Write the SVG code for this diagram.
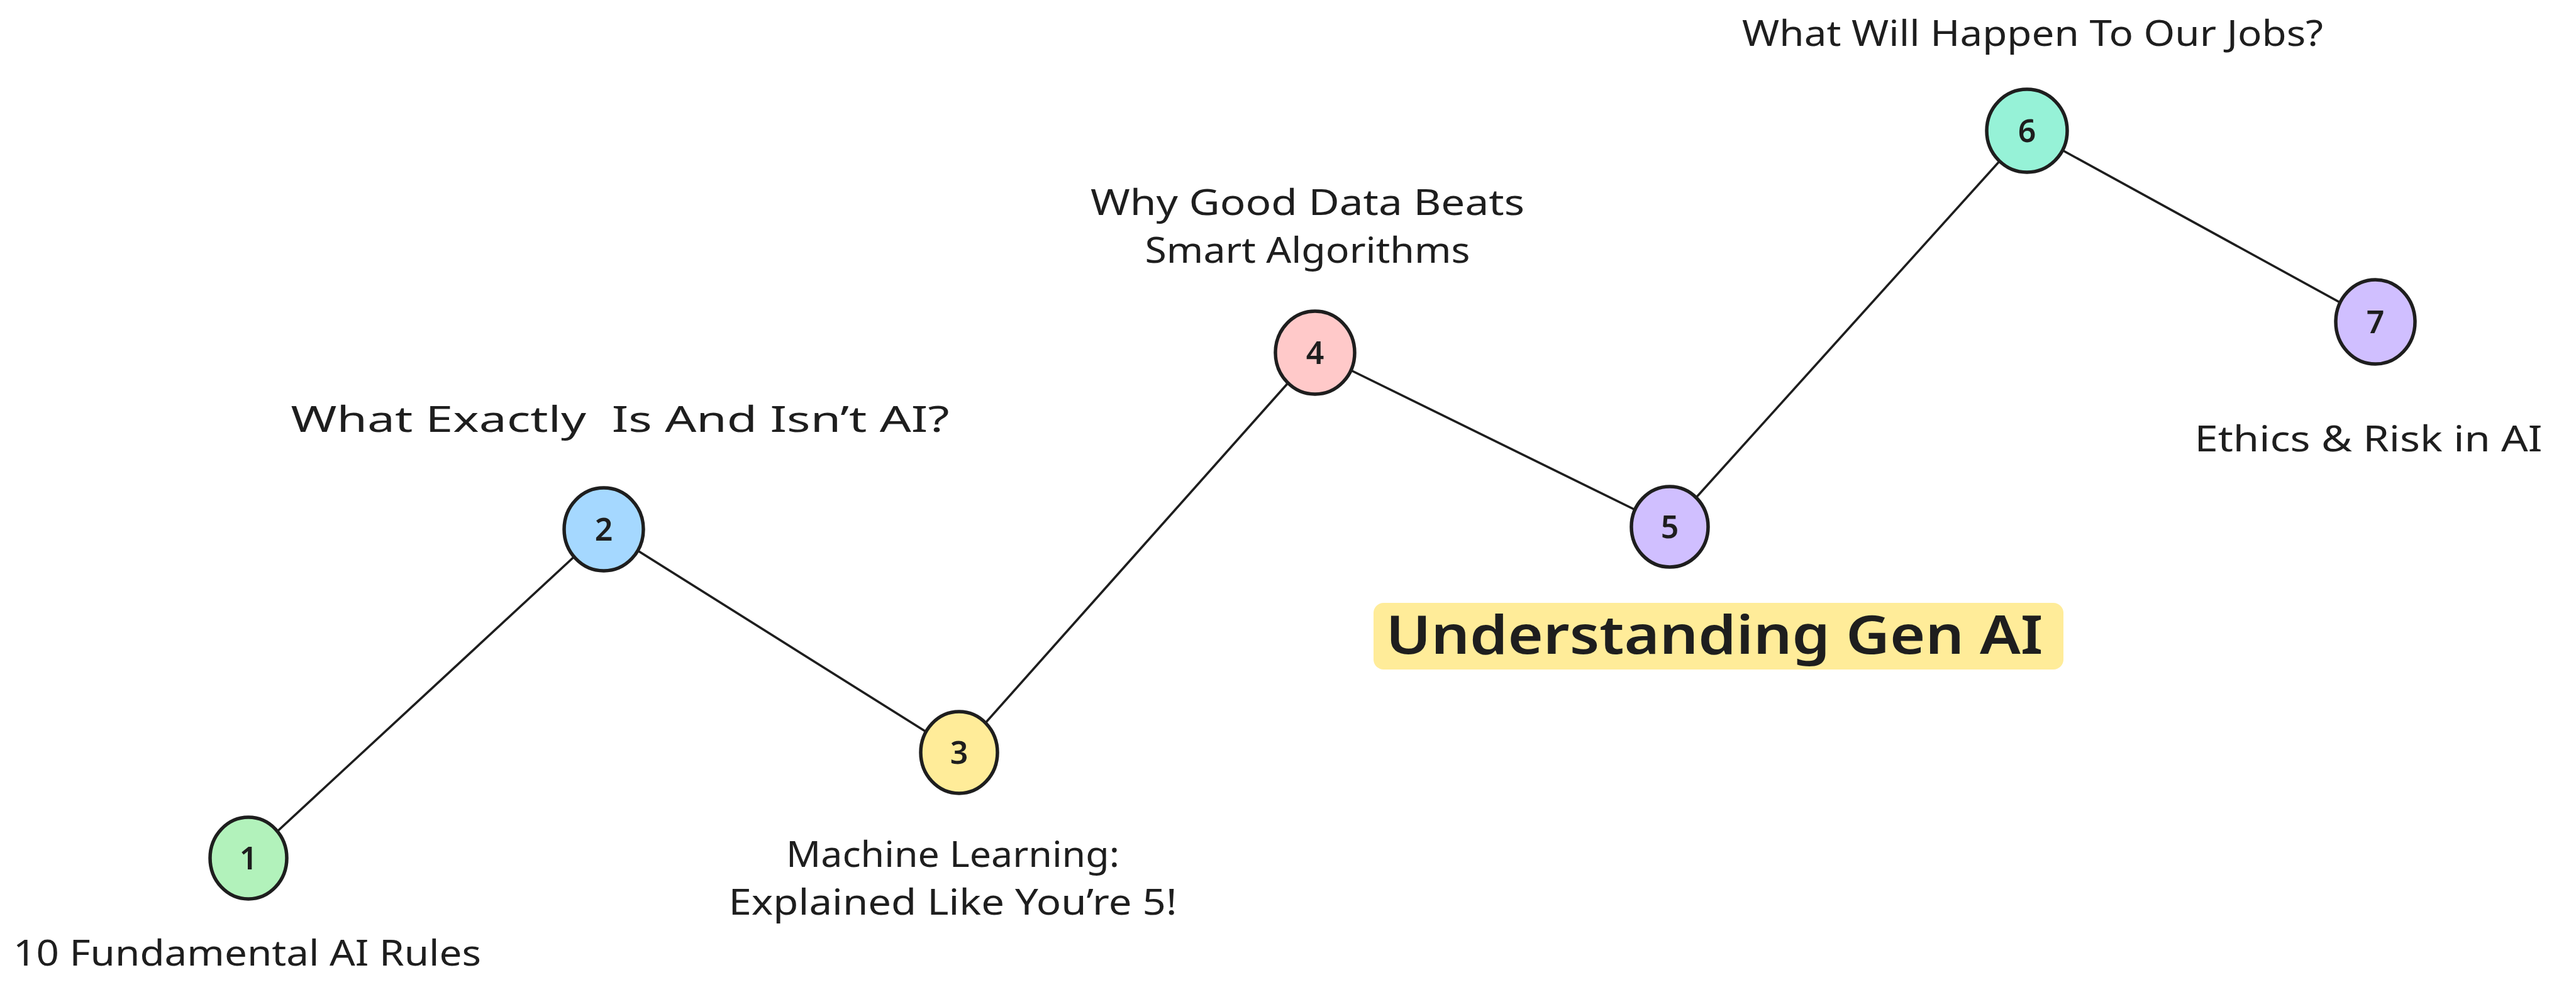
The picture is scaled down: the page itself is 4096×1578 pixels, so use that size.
<svg xmlns="http://www.w3.org/2000/svg" width="4096" height="1578" viewBox="0 0 4096 1578">
<style>
.bg{fill:#ffffff}
.edge{stroke:#1e1e1e;stroke-width:3.6;fill:none;stroke-linecap:round}
.node{stroke:#1e1e1e;stroke-width:5.5}
.num{font-family:"Noto Sans","DejaVu Sans",sans-serif;font-size:50px;fill:#1e1e1e;text-anchor:middle;font-weight:600}
.lbl{font-family:"Noto Sans","DejaVu Sans",sans-serif;font-size:56px;fill:#1e1e1e;text-anchor:middle}
.title{font-family:"Noto Sans","DejaVu Sans",sans-serif;font-size:84px;fill:#1e1e1e;text-anchor:middle;font-weight:600}
</style>
<rect class="bg" x="0" y="0" width="4096" height="1578"/>
<g id="connectors">
<line class="edge" x1="395" y1="1365" x2="960" y2="842"/>
<line class="edge" x1="960" y1="842" x2="1525" y2="1197"/>
<line class="edge" x1="1525" y1="1197" x2="2091" y2="561"/>
<line class="edge" x1="2091" y1="561" x2="2655" y2="838"/>
<line class="edge" x1="2655" y1="838" x2="3223" y2="208"/>
<line class="edge" x1="3223" y1="208" x2="3777" y2="512"/>
</g>
<g id="node1">
<ellipse class="node" cx="395" cy="1365" rx="61" ry="65" fill="#b2f2bb"/>
<text class="num" x="395" y="1383">1</text>
<text class="lbl" x="393" y="1536" textLength="744" lengthAdjust="spacingAndGlyphs">10 Fundamental AI Rules</text>
</g>
<g id="node2">
<ellipse class="node" cx="960" cy="842" rx="63" ry="66" fill="#a5d8ff"/>
<text class="num" x="960" y="860">2</text>
<text class="lbl" x="986" y="687" textLength="1047" lengthAdjust="spacingAndGlyphs" xml:space="preserve">What Exactly  Is And Isn’t AI?</text>
</g>
<g id="node3">
<ellipse class="node" cx="1525" cy="1197" rx="61" ry="65" fill="#ffec99"/>
<text class="num" x="1525" y="1215">3</text>
<text class="lbl" x="1515" y="1379" textLength="530" lengthAdjust="spacingAndGlyphs">Machine Learning:</text>
<text class="lbl" x="1515" y="1455" textLength="713" lengthAdjust="spacingAndGlyphs">Explained Like You’re 5!</text>
</g>
<g id="node4">
<ellipse class="node" cx="2091" cy="561" rx="63" ry="66" fill="#ffc9c9"/>
<text class="num" x="2091" y="579">4</text>
<text class="lbl" x="2079" y="342" textLength="690" lengthAdjust="spacingAndGlyphs">Why Good Data Beats</text>
<text class="lbl" x="2079" y="418" textLength="517" lengthAdjust="spacingAndGlyphs">Smart Algorithms</text>
</g>
<g id="node5">
<ellipse class="node" cx="2655" cy="838" rx="61" ry="64" fill="#d0bfff"/>
<text class="num" x="2655" y="856">5</text>
</g>
<g id="node6">
<ellipse class="node" cx="3223" cy="208" rx="64" ry="66" fill="#96f2d7"/>
<text class="num" x="3223" y="226">6</text>
<text class="lbl" x="3232" y="73" textLength="924" lengthAdjust="spacingAndGlyphs">What Will Happen To Our Jobs?</text>
</g>
<g id="node7">
<ellipse class="node" cx="3777" cy="512" rx="63" ry="67" fill="#d0bfff"/>
<text class="num" x="3777" y="530">7</text>
<text class="lbl" x="3766" y="718" textLength="553" lengthAdjust="spacingAndGlyphs">Ethics &amp; Risk in AI</text>
</g>
<g id="title">
<rect x="2184" y="959" width="1097" height="106" rx="16" fill="#ffec99"/>
<text class="title" x="2726" y="1040" textLength="1045" lengthAdjust="spacingAndGlyphs">Understanding Gen AI</text>
</g>
</svg>
